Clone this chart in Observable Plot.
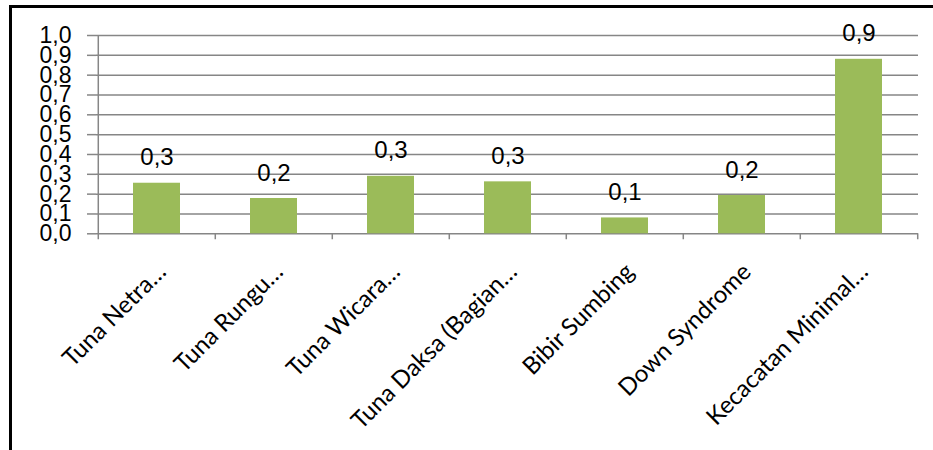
<!DOCTYPE html>
<html>
<head>
<meta charset="utf-8">
<script src="https://cdn.jsdelivr.net/npm/d3@7"></script>
<script src="https://cdn.jsdelivr.net/npm/@observablehq/plot@0.6"></script>
<style>
  html, body { margin: 0; padding: 0; background: #fff; overflow: hidden; width: 933px; height: 450px; }
  #frame { position: absolute; left: 9px; top: 5px; width: 1000px; height: 1000px; border: 3px solid #000; box-sizing: border-box; pointer-events: none; }
  #chart { position: absolute; left: 0; top: 0; }
</style>
</head>
<body>
<div id="chart"></div>
<div id="frame"></div>
<script>
const categories = ["Tuna Netra…", "Tuna Rungu…", "Tuna Wicara…", "Tuna Daksa (Bagian…", "Bibir Sumbing", "Down Syndrome", "Kecacatan Minimal…"];
const values = [0.255, 0.178, 0.29, 0.262, 0.08, 0.193, 0.88];
const yTicks = [0, 0.1, 0.2, 0.3, 0.4, 0.5, 0.6, 0.7, 0.8, 0.9, 1.0];

const data = categories.map((c, i) => ({category: c, value: values[i]}));
const commaFmt = d3.formatLocale({decimal: ",", thousands: ".", grouping: [3], currency: ["", ""]}).format(".1f");

const W = 933, H = 450;
const mL = 96, mR = 15, mT = 35, mB = 216.7;
const step = (W - mL - mR) / categories.length;
const gray = "#868686";
const green = "#9BBB59";
const numFont = "'Liberation Sans', Arial, sans-serif";

const plot = Plot.plot({
  width: W,
  height: H,
  marginLeft: mL,
  marginRight: mR,
  marginTop: mT,
  marginBottom: mB,
  style: {fontFamily: numFont, background: "transparent", overflow: "visible"},
  x: {domain: categories, paddingInner: 0.6, paddingOuter: 0.3},
  y: {domain: [0, 1]},
  marks: [
    Plot.ruleY(yTicks, {stroke: gray, strokeWidth: 1.5}),
    Plot.axisY({ticks: yTicks, tickFormat: commaFmt, tickSize: 9, tickPadding: 16, stroke: gray, strokeWidth: 1.5, fontSize: 23, fontFamily: numFont, fill: "#000", label: null}),
    Plot.barY(data, {x: "category", y: "value", fill: green}),
    // category boundary tick marks and vertical axis line
    Plot.ruleX(categories, {x: d => d, dx: -step / 2, y1: -0.03, y2: (d, i) => i === 0 ? 1 : 0, stroke: gray, strokeWidth: 1.5}),
    Plot.ruleX([categories[categories.length - 1]], {x: d => d, dx: step / 2, y1: -0.03, y2: 0, stroke: gray, strokeWidth: 1.5}),
    Plot.text(data, {x: "category", y: "value", text: d => commaFmt(d.value), dy: -25.5, fontSize: 24, fontFamily: numFont, fill: "#000"}),
    Plot.axisX({tickSize: 0, tickRotate: -45, tickPadding: 34, dx: 5, fontSize: 24, fontFamily: "Lato, 'Open Sans', sans-serif", fill: "#000", label: null})
  ]
});
document.getElementById("chart").appendChild(plot);
</script>
</body>
</html>
